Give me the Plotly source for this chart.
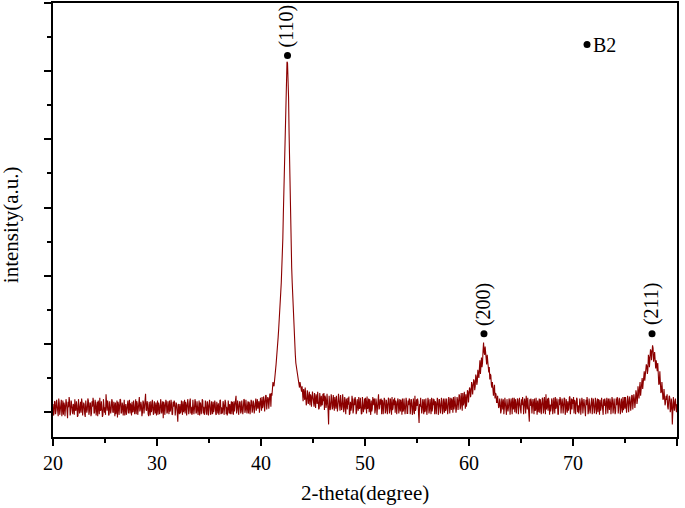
import numpy as np
import plotly.graph_objects as go

# intensity (a.u.) at 20.0, 20.1, ... 80.0 deg -- one row per degree
intensity = [
    12, -2, 15, 3, 9, -6, 14, 1, 18, 4,          # 20
    -4, 10, 2, 13, -9, 7, 16, 0, 11, -3,         # 21
    8, 19, 2, 10, -5, 12, 6, -1, 14, 3,          # 22
    11, -7, 9, 4, 17, 1, 13, -2, 8, 15,          # 23
    0, 12, 5, -6, 10, 21, 3, 9, -4, 11,          # 24
    7, 26, 2, 13, -3, 10, 5, 16, -1, 9,          # 25
    14, 2, -8, 11, 6, 18, 0, 10, 4, -5,          # 26
    12, 3, 17, 7, -2, 9, 15, 1, 11, 5,           # 27
    -3, 13, 8, 22, 4, 10, -1, 14, 6, 27,         # 28
    2, 11, -6, 9, 16, 3, 12, -2, 8, 14,          # 29
    5, -4, 10, 1, 13, 7, -9, 11, 4, 15,          # 30
    0, 9, 17, 3, 12, -3, 8, 14, 2, 10,           # 31
    -14, 7, 12, 1, 9, 16, 4, -2, 11, 6,          # 32
    13, 2, 20, 8, -1, 10, 5, 15, 0, 9,           # 33
    6, -5, 12, 3, 17, 8, 1, 14, -3, 10,          # 34
    4, 11, -2, 9, 15, 5, 12, -4, 8, 13,          # 35
    2, 18, 7, 0, 11, 4, 14, 8, -1, 10,           # 36
    12, 5, -3, 9, 16, 6, 24, 3, 11, 7,           # 37
    14, 1, 10, 6, 18, 3, 12, 8, -2, 11,          # 38
    9, 15, 4, 13, 7, 20, 10, 5, 16, 8,           # 39
    12, 22, 9, 17, 11, 24, 14, 20, 16, 26,       # 40
    28, 34, 40, 52, 62, 78, 96, 122, 150, 176,   # 41
    205, 255, 330, 400, 468, 514, 496, 410, 318, 240,  # 42
    190, 146, 112, 84, 66, 52, 46, 36, 40, 30,   # 43
    24, 34, 18, 28, 14, 26, 20, 10, 24, 17,      # 44
    22, 8, 19, 26, 12, 20, 6, 17, 24, 11,        # 45
    16, 3, 21, 12, 18, -18, 14, 9, 20, 7,        # 46
    13, 22, 5, 15, 10, 19, 2, 14, 8, 17,         # 47
    6, 12, 20, 4, 11, -4, 15, 7, 18, 3,          # 48
    10, 16, 1, 13, 22, 6, 11, -2, 14, 8,         # 49
    4, 13, 23, 7, 0, 12, 17, 5, 10, 20,          # 50
    3, 14, 8, 26, 6, 11, -3, 15, 9, 18,          # 51
    2, 12, 7, 19, 4, 13, 22, 6, 10, -1,          # 52
    14, 5, 17, 9, 1, 12, 20, 3, 11, 7,           # 53
    15, -2, 10, 18, 6, 13, 0, 12, 24, 5,         # 54
    9, 16, -16, 8, 14, 4, 11, 19, 2, 13,         # 55
    7, 17, 3, 12, 21, 6, 10, -3, 14, 9,          # 56
    18, 4, 12, 7, 16, 1, 11, 20, 5, 13,          # 57
    8, 19, 10, 3, 15, 22, 9, 14, 6, 18,          # 58
    12, 24, 9, 17, 28, 13, 21, 26, 16, 30,       # 59
    24, 34, 28, 40, 33, 46, 38, 52, 45, 58,      # 60
    64, 56, 80, 72, 102, 84, 88, 70, 74, 58,     # 61
    48, 54, 36, 30, 34, 20, 26, 14, 18, 8,       # 62
    14, 2, 12, 19, 6, 10, -4, 13, 8, 17,         # 63
    3, 11, 21, 7, 0, 14, 9, 18, 5, 12,           # 64
    -2, 10, 16, 6, 13, 24, 4, 11, -14, 9,        # 65
    15, 5, 12, 20, 3, 10, 17, 7, -1, 13,         # 66
    8, 19, 4, 14, 26, 9, 2, 15, 11, 6,           # 67
    17, 3, 12, 22, 7, 14, -3, 10, 18, 5,         # 68
    13, 8, 20, 1, 11, 16, 6, 23, 9, 4,           # 69
    12, -2, 15, 7, 19, 10, 3, 14, 8, 17,         # 70
    5, 12, -6, 10, 16, 2, 13, 8, 21, 6,          # 71
    11, 4, 15, 9, 0, 13, 18, 7, 12, -4,          # 72
    9, 16, 5, 11, 20, 3, 14, 8, 17, 6,           # 73
    13, 1, 10, 18, 7, 15, 4, 12, 22, 9,          # 74
    5, 14, 10, 19, 8, 16, 11, 24, 13, 20,        # 75
    15, 28, 18, 26, 36, 24, 44, 34, 52, 46,      # 76
    58, 68, 62, 80, 74, 90, 84, 94, 80, 72,      # 77
    76, 60, 54, 42, 46, 30, 34, 20, 26, 14,      # 78
    18, 8, 16, 22, 4, 12, -4, 10, 16, 6,         # 79
    12,                                          # 80
]

# intensity at the half steps 20.05, 20.15, ... 79.95 deg
intensity_half = [
    -5, 16, -3, 18, 0, 20, -4, 13, -6, 17,       # 20
    14, -6, 19, -2, 15, 22, -5, 17, 1, 12,       # 21
    -4, 3, 16, -7, 19, -2, 15, 20, -5, 14,       # 22
    -3, 17, -1, 20, -4, 14, -6, 16, 21, -2,      # 23
    18, -5, 15, 17, -3, 2, 16, -7, 19, -1,       # 24
    -4, 8, 17, -5, 16, -2, 19, 0, 15, -6,        # 25
    -3, 17, 15, -4, 19, -2, 14, -5, 18, 12,      # 26
    -4, 16, -2, 18, 13, -5, 0, 17, -3, 19,       # 27
    16, -4, 20, 1, 15, -6, 17, -2, 18, 3,        # 28
    16, -3, 15, -5, 0, 18, -4, 16, -2, -5,       # 29
    17, 14, -3, 19, -2, 16, 15, -4, 18, -2,      # 30
    16, -3, 1, 18, -4, 15, 17, -5, 14, -2,       # 31
    12, -3, -2, 17, -4, 0, 18, 15, -5, 19,       # 32
    -3, 16, -2, -4, 18, -3, 19, -2, 16, -4,      # 33
    17, 14, -3, 19, -2, -4, 17, -3, 16, -5,      # 34
    18, -4, 16, -3, 0, 17, -3, 15, -2, -4,       # 35
    17, -3, -2, 16, -4, 18, -3, -5, 17, -2,      # 36
    -3, 16, 15, -4, 1, 18, -2, 17, -4, 16,       # 37
    -2, 17, -3, 19, -1, 18, -2, 16, 15, -3,      # 38
    18, -1, 17, -2, 20, 2, 19, 16, -1, 21,       # 39
    2, 6, 23, 1, 25, 4, 22, 5, 27, 8,            # 40
    24, 44, 38, 56, 70, 84, 110, 132, 165, 190,  # 41
    232, 292, 366, 438, 500, 512, 462, 360, 280, 212,  # 42
    168, 128, 98, 72, 60, 54, 38, 44, 32, 38,    # 43
    16, 26, 36, 10, 32, 12, 30, 26, 8, 30,       # 44
    10, 28, 6, 14, 30, 4, 28, 8, 10, 27,         # 45
    28, 24, 6, 27, 2, 24, 3, 26, 4, 25,          # 46
    2, 8, 24, 1, 27, 4, 25, 3, 26, 0,            # 47
    22, -3, 9, 21, 23, -2, 2, 24, -2, 20,        # 48
    22, -3, 19, 2, 5, 21, -3, 22, 0, 20,         # 49
    21, -2, 5, 20, 19, -4, 1, 22, 18, -2,        # 50
    20, -4, 21, 4, 19, 20, 18, -3, 21, -2,       # 51
    18, -3, 21, -2, 20, -4, 3, 19, 21, 17,       # 52
    -3, 20, -2, 19, 18, -4, 1, 20, -3, 21,       # 53
    -2, 17, 20, -3, 19, -4, 20, -3, 2, 19,       # 54
    20, -3, 12, 21, -2, 19, -3, 0, 20, -4,       # 55
    21, -2, 19, -3, 1, 20, 19, 16, -3, 21,       # 56
    -4, 19, -2, 21, -3, 20, -1, 2, 20, -3,       # 57
    22, -2, 21, 20, -1, 4, 23, -1, 22, 3,        # 58
    26, 4, 28, 2, 10, 30, 5, 8, 32, 14,          # 59
    36, 22, 44, 26, 48, 32, 55, 40, 62, 50,      # 60
    76, 68, 66, 90, 88, 96, 74, 84, 62, 66,      # 61
    56, 40, 44, 24, 40, 28, 14, 24, 6, 20,       # 62
    -2, 20, 4, -3, 21, -2, 19, 1, 20, -4,        # 63
    20, -3, 4, 21, 19, -2, 20, -3, 21, -2,       # 64
    19, 22, -3, 20, -2, 5, 21, -4, 19, 20,       # 65
    -2, 19, -3, 2, 21, -4, 0, 20, 19, -3,        # 66
    21, -2, 22, -3, 4, 20, 21, -4, 1, 20,        # 67
    -3, 21, -2, 5, 20, -3, 19, 22, -2, 20,       # 68
    -2, 21, -4, 19, -1, 2, 22, -3, 20, 19,       # 69
    22, 18, -3, 21, 0, -2, 20, -4, 21, -2,       # 70
    19, -4, 18, 22, -3, 20, -2, 21, -3, 20,      # 71
    -2, 21, -3, 20, 19, -4, 2, 21, -3, 19,       # 72
    20, -3, 21, -2, 4, 20, -3, 22, -2, 20,       # 73
    -3, 20, 22, -2, 21, -3, 20, -1, 3, 22,       # 74
    22, -1, 24, 0, 23, 2, 25, 4, 26, 6,          # 75
    32, 12, 38, 20, 44, 30, 50, 40, 60, 54,      # 76
    70, 56, 84, 66, 92, 76, 98, 74, 88, 64,      # 77
    62, 72, 40, 60, 28, 44, 18, 34, 10, 24,      # 78
    26, 4, 24, 0, 20, -18, 22, 2, 20, 0,         # 79
]

# B2 peak markers: label, 2-theta, height of the dot
peak_labels = ["(110)", "(200)", "(211)"]
peak_pos = [42.55, 61.44, 77.6]
peak_mark = [523, 115, 115]

# legend-like key in the corner
key_label = "B2"
key_pos = 71.35
key_mark = 539

FONT = "Liberation Serif, Times New Roman, serif"
LINE = "#8b0000"

# merge the two passes into one scan
theta_full = np.round(np.arange(20.0, 80.05, 0.1), 1)
theta_half = np.round(np.arange(20.05, 80.0, 0.1), 2)
two_theta = np.concatenate([theta_full, theta_half])
counts = np.concatenate([intensity, intensity_half])
order = np.argsort(two_theta)
two_theta, counts = two_theta[order], counts[order]

fig = go.Figure()
fig.add_trace(go.Scatter(
    x=two_theta, y=counts, mode="lines",
    line=dict(color=LINE, width=1.1), showlegend=False, hoverinfo="skip"
))

# dots above the peaks and in the key
fig.add_trace(go.Scatter(
    x=peak_pos + [key_pos], y=peak_mark + [key_mark], mode="markers",
    marker=dict(color="black", size=7, symbol="circle"),
    showlegend=False, hoverinfo="skip", cliponaxis=False
))

for lab, xp, yp in zip(peak_labels, peak_pos, peak_mark):
    fig.add_annotation(
        x=xp, y=yp + 9, xref="x", yref="y", text=lab, textangle=-90,
        showarrow=False, xanchor="center", yanchor="bottom", xshift=-1,
        font=dict(family=FONT, size=20, color="black")
    )

fig.add_annotation(
    x=key_pos + 0.4, y=key_mark, xref="x", yref="y", text=key_label,
    showarrow=False, xanchor="left", yanchor="middle",
    font=dict(family=FONT, size=20, color="black")
)

# axis titles placed by hand
fig.add_annotation(
    x=-0.066, y=0.49, xref="paper", yref="paper", text="intensity(a.u.)",
    textangle=-90, showarrow=False, xanchor="center", yanchor="middle",
    font=dict(family=FONT, size=21, color="black")
)
fig.add_annotation(
    x=0.5, y=-0.13, xref="paper", yref="paper", text="2-theta(degree)",
    showarrow=False, xanchor="center", yanchor="middle",
    font=dict(family=FONT, size=21, color="black")
)

fig.update_layout(
    width=685, height=508,
    margin=dict(l=53, r=8, t=1, b=71),
    plot_bgcolor="white", paper_bgcolor="white",
    xaxis=dict(
        range=[20, 80], tickmode="linear", tick0=20, dtick=10,
        ticks="outside", ticklen=7, tickwidth=1.5, tickcolor="black",
        minor=dict(dtick=5, ticks="outside", ticklen=4, tickwidth=1.5, tickcolor="black"),
        showline=True, linecolor="black", linewidth=1.5, mirror=True,
        showgrid=False, zeroline=False,
        tickfont=dict(family=FONT, size=20, color="black"),
    ),
    yaxis=dict(
        range=[-36.5, 600], tickmode="linear", tick0=0, dtick=100,
        ticks="outside", ticklen=7, tickwidth=1.5, tickcolor="black",
        minor=dict(dtick=50, ticks="outside", ticklen=4, tickwidth=1.5, tickcolor="black"),
        showticklabels=False,
        showline=True, linecolor="black", linewidth=1.5, mirror=True,
        showgrid=False, zeroline=False,
    ),
)

# the page's default body margin would shift the figure by 8px
fig.write_html("out.html", config={"displayModeBar": False},
               post_script="document.body.style.margin='0px';")
